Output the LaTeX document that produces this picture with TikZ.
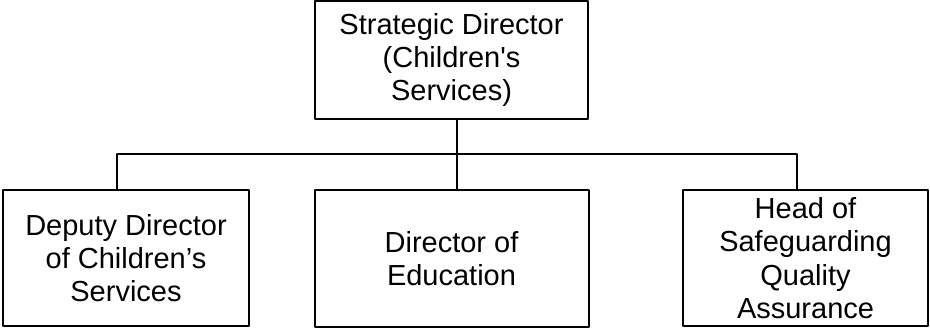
\documentclass[tikz,border=0pt]{standalone}
\usepackage{fontspec}
\setmainfont{Liberation Sans}
\usetikzlibrary{positioning}

\begin{document}
\begin{tikzpicture}[line cap=round,line join=round,x=0.75pt,y=0.75pt,
  post/.style={draw=black,line width=1.5pt,align=center,inner sep=0pt,
    font=\fontsize{21.75}{25}\selectfont},
  link/.style={draw=black,line width=1.5pt,line cap=rect}]
\useasboundingbox (0,0) rectangle (930,-328);
\node[post,minimum width=273*0.75pt,minimum height=118*0.75pt] (strategic) at (451.5,-60) {Strategic Director\\(Children\textquotesingle s\\Services)};
\node[post,minimum width=246*0.75pt,minimum height=136*0.75pt] (deputy) at (126,-258) {Deputy Director\\of Children’s\\Services};
\node[post,minimum width=274*0.75pt,minimum height=137*0.75pt] (education) at (451.5,-258.5) {Director of\\Education};
\node[post,minimum width=245*0.75pt,minimum height=136*0.75pt] (safeguarding) at (805.5,-258) {Head of\\Safeguarding\\Quality\\Assurance};
\coordinate (bus) at (457,-154);
% reporting lines
\draw[link] (strategic.south -| bus) -- (education.north -| bus);
\draw[link] ([xshift=-6.75pt]deputy.north) |- (bus) -| ([xshift=-6.4pt]safeguarding.north);
\end{tikzpicture}
\end{document}
